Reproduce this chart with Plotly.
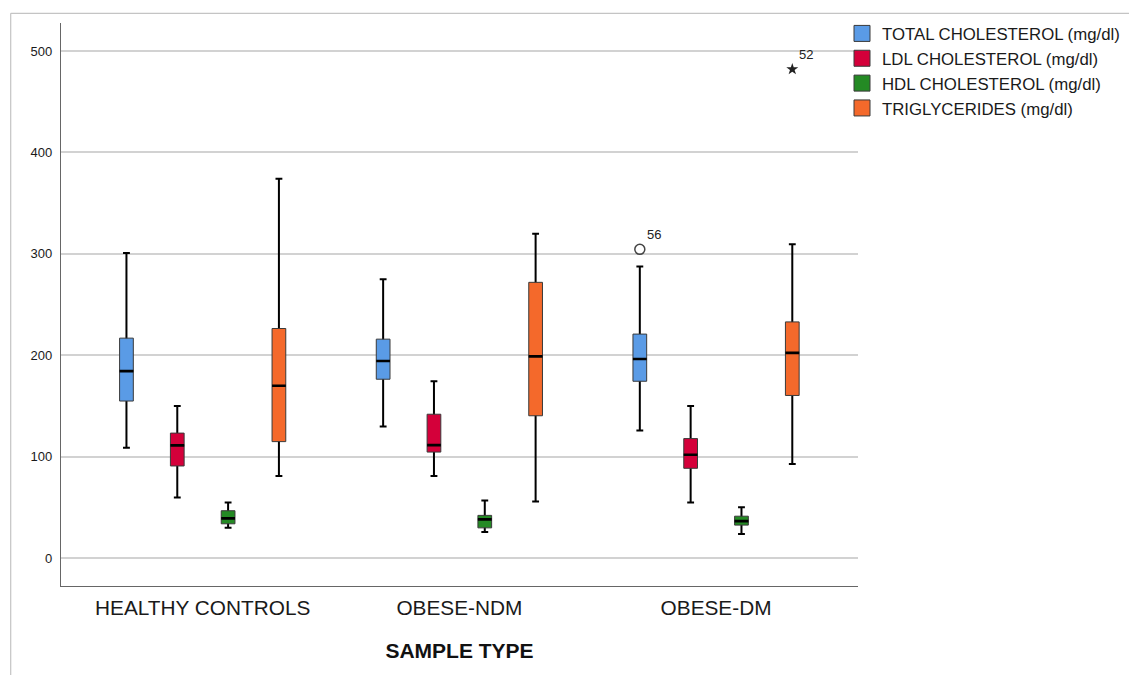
import plotly.graph_objects as go

# ---------------- data ----------------
groups = ["HEALTHY CONTROLS", "OBESE-NDM", "OBESE-DM"]
series = ["TOTAL CHOLESTEROL (mg/dl)", "LDL CHOLESTEROL (mg/dl)",
          "HDL CHOLESTEROL (mg/dl)", "TRIGLYCERIDES (mg/dl)"]
colors = ["#5A9BE6", "#D4003A", "#248A24", "#F4692B"]

# per series: values for [HEALTHY CONTROLS, OBESE-NDM, OBESE-DM]
lower = [[109, 130, 126], [60, 81, 55], [30, 26, 24], [81, 56, 93]]
q1 = [[155, 176.5, 174.5], [91, 104.7, 88.7], [34, 30, 32.7], [115, 140.5, 160.5]]
median = [[184.5, 194.5, 196.5], [111.3, 111.5, 102], [39.4, 38.4, 36.6], [170, 199, 202.5]]
q3 = [[217, 216, 221], [123.4, 142, 118], [46.9, 42.3, 41.5], [226.5, 272, 233]]
upper = [[301, 275, 287.5], [150, 174.5, 150], [55, 57, 50.3], [374, 320, 309.5]]

# outliers: (series index, group index, value, case label, kind)
out_series = [0, 3]
out_group = [2, 2]
out_value = [304.5, 482]
out_label = ["56", "52"]
out_kind = ["outlier", "extreme"]

y_ticks = [0, 100, 200, 300, 400, 500]

# ---------------- styling ----------------
FONT = "Liberation Sans, Arial, sans-serif"
BOXGAP = 0.208
BOXGROUPGAP = 0.73
N = len(series)

fig = go.Figure()
xpos = list(range(len(groups)))

for k, name in enumerate(series):
    # whiskers (lower fence -> upper fence)
    fig.add_trace(go.Box(
        x=xpos, q1=median[k], median=median[k], q3=median[k],
        lowerfence=lower[k], upperfence=upper[k],
        offsetgroup=name, alignmentgroup="a",
        line=dict(color="black", width=2), fillcolor="rgba(0,0,0,0)",
        whiskerwidth=0.5, boxpoints=False, showlegend=False, hoverinfo="skip"))
    # filled box (q1 -> q3)
    fig.add_trace(go.Box(
        x=xpos, q1=q1[k], median=median[k], q3=q3[k],
        lowerfence=q1[k], upperfence=q3[k], name=name,
        offsetgroup=name, alignmentgroup="a",
        line=dict(color="#3a3a3a", width=1), fillcolor=colors[k],
        whiskerwidth=0, boxpoints=False, showlegend=False))
    # median line
    fig.add_trace(go.Box(
        x=xpos, q1=median[k], median=median[k], q3=median[k],
        lowerfence=median[k], upperfence=median[k],
        offsetgroup=name, alignmentgroup="a",
        line=dict(color="black", width=2.6), fillcolor="rgba(0,0,0,0)",
        whiskerwidth=0, boxpoints=False, showlegend=False, hoverinfo="skip"))
    # legend entry
    fig.add_trace(go.Scatter(
        x=[None], y=[None], mode="markers", name=name,
        marker=dict(symbol="square", size=16, color=colors[k],
                    line=dict(color="#3a3a3a", width=1))))

# outlier markers, positioned at the same group offsets the boxes use
for s, g, v, lab, kind in zip(out_series, out_group, out_value, out_label, out_kind):
    off = (1 - BOXGAP) * (-0.5 + (s + 0.5) / N)
    if kind == "outlier":
        mk = dict(symbol="circle-open", size=10, color="#444444", line=dict(width=1.5))
    else:
        mk = dict(symbol="star", size=9, color="#222222")
    fig.add_trace(go.Scatter(
        x=[g + off], y=[v], mode="markers+text", text=[lab],
        textposition="top right", textfont=dict(family=FONT, size=13, color="#222222"),
        marker=mk, showlegend=False, hoverinfo="y"))

# outer frame lines (left and top)
L, R, T, B = 61, 858, 23, 586
W, H = 1129, 675
pw, ph = R - L, B - T
def px(xp): return (xp - L) / pw
def py(yp): return (B - yp) / ph
frame = dict(color="#c4c4c4", width=1.2)
shapes = [
    dict(type="line", xref="paper", yref="paper", x0=px(10.7), x1=px(10.7),
         y0=py(H), y1=py(13.3), line=frame),
    dict(type="line", xref="paper", yref="paper", x0=px(10.7), x1=px(W),
         y0=py(13.3), y1=py(13.3), line=frame),
]

fig.update_layout(
    width=W, height=H,
    margin=dict(l=L, r=W - R, t=T, b=H - B, autoexpand=False),
    paper_bgcolor="white", plot_bgcolor="white",
    boxmode="group", boxgap=BOXGAP, boxgroupgap=BOXGROUPGAP,
    font=dict(family=FONT, color="#1a1a1a"),
    shapes=shapes,
    legend=dict(x=px(842), y=py(16), xanchor="left", yanchor="top",
                font=dict(family=FONT, size=16.8, color="#1a1a1a"),
                bgcolor="rgba(0,0,0,0)", itemwidth=30, tracegroupgap=0),
    xaxis=dict(range=[-0.552, 2.553], tickmode="array", tickvals=xpos, ticktext=groups,
               showgrid=False, zeroline=False, showline=True, linecolor="#666666",
               linewidth=1.2, ticks="", tickfont=dict(family=FONT, size=20.8, color="#1a1a1a"),
               ticklabelstandoff=3,
               title=dict(text="<b>SAMPLE TYPE</b>", standoff=25,
                          font=dict(family=FONT, size=21, color="#111111"))),
    yaxis=dict(range=[-27.3, 527.6], tickmode="array", tickvals=y_ticks,
               showgrid=True, gridcolor="#d2d2d2", gridwidth=1.5,
               zeroline=False, showline=True, linecolor="#666666", linewidth=1.2,
               ticks="", tickfont=dict(family=FONT, size=13, color="#1a1a1a"),
               ticklabelstandoff=5),
)

fig.write_html("out.html", config={"displayModeBar": False},
               post_script="document.body.style.margin='0';document.body.style.padding='0';")
